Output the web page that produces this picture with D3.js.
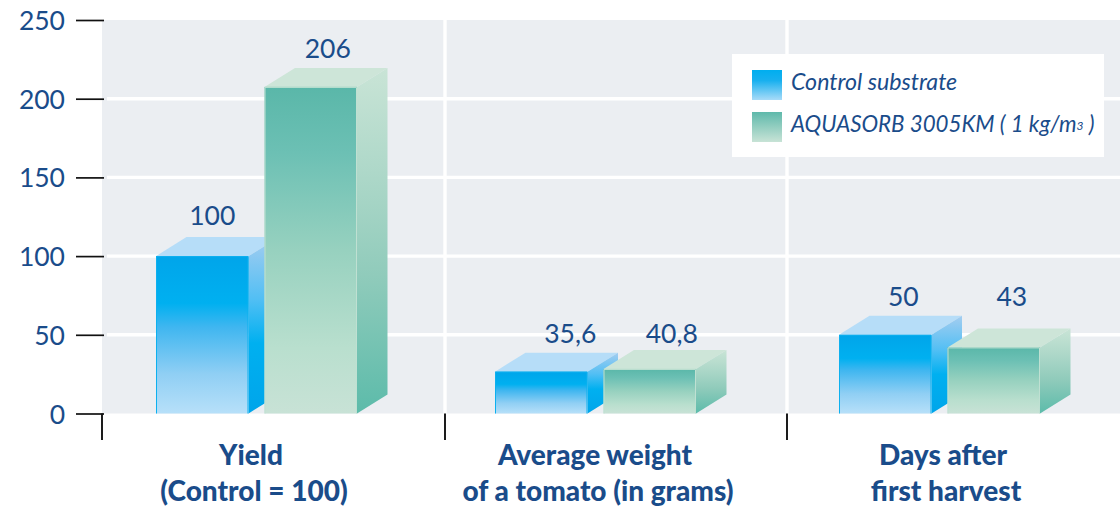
<!DOCTYPE html>
<html><head><meta charset="utf-8">
<script src="https://cdn.jsdelivr.net/npm/d3@7"></script>
<style>html,body{margin:0;padding:0;background:#fff}svg{display:block}text{font-family:Lato,"Open Sans",sans-serif}</style>
</head><body><svg id="c" width="1120" height="507"></svg>
<script>
const categories = [["Yield","(Control = 100)"],["Average weight","of a tomato (in grams)"],["Days after","first harvest"]];
const seriesNames = ["Control substrate","AQUASORB 3005KM ( 1 kg/m"];
const printedLabels = [["100","35,6","50"],["206","40,8","43"]];
const controlHeights = [100,26.6,50];
const aquasorbHeights = [207.5,28.3,42];
const yTicks = [0,50,100,150,200,250];

// layout
const W=1120,H=507,navy="#1a4c8a";
const y=d3.scaleLinear().domain([0,250]).range([413.5,20]);
const groupX=d3.scaleOrdinal([0,1,2],[156,495,839]);
const seriesDx=[0,108.5], barW=92.5, dx=30.5, dy=-19;
const labelOffset=[[[10,-31.5],[29,-28.5],[18,-28.5]],[[17,-29],[22,-25.5],[18,-41.5]]];
const catCentre=[[251,254],[595,598],[943,946]], seps=[102,445,787];

const svg=d3.select("#c");
const defs=svg.append("defs");
function grad(id,stops){const g=defs.append("linearGradient").attr("id",id).attr("x1",0).attr("y1",0).attr("x2",0).attr("y2",1);
 stops.forEach(s=>g.append("stop").attr("offset",s[0]).attr("stop-color",s[1]));}
grad("bf",[[0,"#00a5ea"],[.3,"#00b0f0"],[.45,"#3fb6f0"],[.75,"#90cff4"],[1,"#b7e0f9"]]);
grad("bs",[[0,"#a4cdf0"],[.35,"#52bff4"],[.6,"#00b0f0"],[1,"#00a5ea"]]);
grad("gf",[[0,"#5ab7a9"],[.2,"#6cc0b4"],[.5,"#97d1bf"],[.8,"#b9dfce"],[1,"#c8e2d6"]]);
grad("gs",[[0,"#c9e4d6"],[.3,"#aed8c9"],[.6,"#90cbbb"],[1,"#5cbbaa"]]);
grad("lb",[[0,"#00aeef"],[.35,"#18b0ef"],[1,"#a8dbf8"]]);
grad("lg",[[0,"#5fb9ab"],[1,"#c8e3d6"]]);

// background and grid
svg.append("rect").attr("x",102).attr("y",y(250)).attr("width",W-102).attr("height",y(0)-y(250)).attr("fill","#ebeef2");
svg.append("g").selectAll("line").data(yTicks.filter(t=>t>0&&t<250)).join("line")
 .attr("x1",107).attr("x2",W).attr("y1",d=>y(d)).attr("y2",d=>y(d)).attr("stroke","#fff").attr("stroke-width",3.4);
svg.append("g").selectAll("line").data(seps.slice(1)).join("line")
 .attr("x1",d=>d).attr("x2",d=>d).attr("y1",y(250)).attr("y2",y(0)).attr("stroke","#fff").attr("stroke-width",3.4);

// axis
const axis=d3.axisLeft(y).tickValues(yTicks).tickSize(28).tickPadding(11).tickFormat(d3.format("d"));
const ax=svg.append("g").attr("transform","translate(104,0)").call(axis);
ax.select(".domain").remove();
ax.selectAll("line").attr("stroke","#111").attr("stroke-width",1.7);
ax.selectAll("text").attr("fill",navy).attr("font-size",26.5).attr("font-family",'Lato,sans-serif').attr("y",0.5).attr("dy","0.34em");
svg.append("g").selectAll("line").data(seps).join("line")
 .attr("x1",d=>d).attr("x2",d=>d).attr("y1",y(0)).attr("y2",440).attr("stroke","#111").attr("stroke-width",1.9);

// bars
function bar(g,x,v,pre,topCol,edge){
 const t=y(v),b=y(0),w=barW;
 g.append("path").attr("d",`M${x},${t}L${x+dx},${t+dy}L${x+w+dx},${t+dy}L${x+w},${t}Z`).attr("fill",topCol);
 g.append("path").attr("d",`M${x+w},${t}L${x+w+dx},${t+dy}L${x+w+dx},${b+dy}L${x+w},${b}Z`).attr("fill",`url(#${pre}s)`);
 g.append("rect").attr("x",x).attr("y",t).attr("width",w).attr("height",b-t).attr("fill",`url(#${pre}f)`);
 g.append("path").attr("d",`M${x+.5},${b}V${t+.5}H${x+w-.5}V${b}`).attr("fill","none").attr("stroke",edge).attr("stroke-width",1);
}
[0,1,2].forEach(i=>{
 const g=svg.append("g");
 bar(g,groupX(i)+seriesDx[0],controlHeights[i],"b","#b6ddf8","#0db0ef");
 bar(g,groupX(i)+seriesDx[1],aquasorbHeights[i],"g","#cde5d8","#bfe0d2");
 [controlHeights,aquasorbHeights].forEach((arr,s)=>{
  g.append("text").attr("x",groupX(i)+seriesDx[s]+barW/2+labelOffset[s][i][0]).attr("y",y(arr[i])+labelOffset[s][i][1])
   .attr("text-anchor","middle").attr("fill",navy).attr("font-size",26.5).text(printedLabels[s][i]);
 });
});

// category labels
categories.forEach((c,i)=>c.forEach((l,k)=>{
 svg.append("text").attr("x",catCentre[i][k]).attr("y",464.5+k*36).attr("text-anchor","middle")
  .attr("fill",navy).attr("font-size",28).attr("font-weight",900).text(l);
}));

// legend
svg.append("rect").attr("x",732).attr("y",54).attr("width",372).attr("height",103).attr("fill","#fff");
[["lb",70],["lg",112]].forEach((d,i)=>{
 svg.append("rect").attr("x",752).attr("y",d[1]).attr("width",30).attr("height",30).attr("fill",`url(#${d[0]})`);
 const t=svg.append("text").attr("x",791).attr("y",d[1]+20).attr("fill",navy).attr("font-size",i?22.3:23.2).attr("font-style","italic").text(seriesNames[i]);
 if(i==1){t.append("tspan").attr("font-size",12).attr("dy",-2).text("3");t.append("tspan").attr("font-size",22.3).attr("dy",2).text(" )");}
});
</script></body></html>
